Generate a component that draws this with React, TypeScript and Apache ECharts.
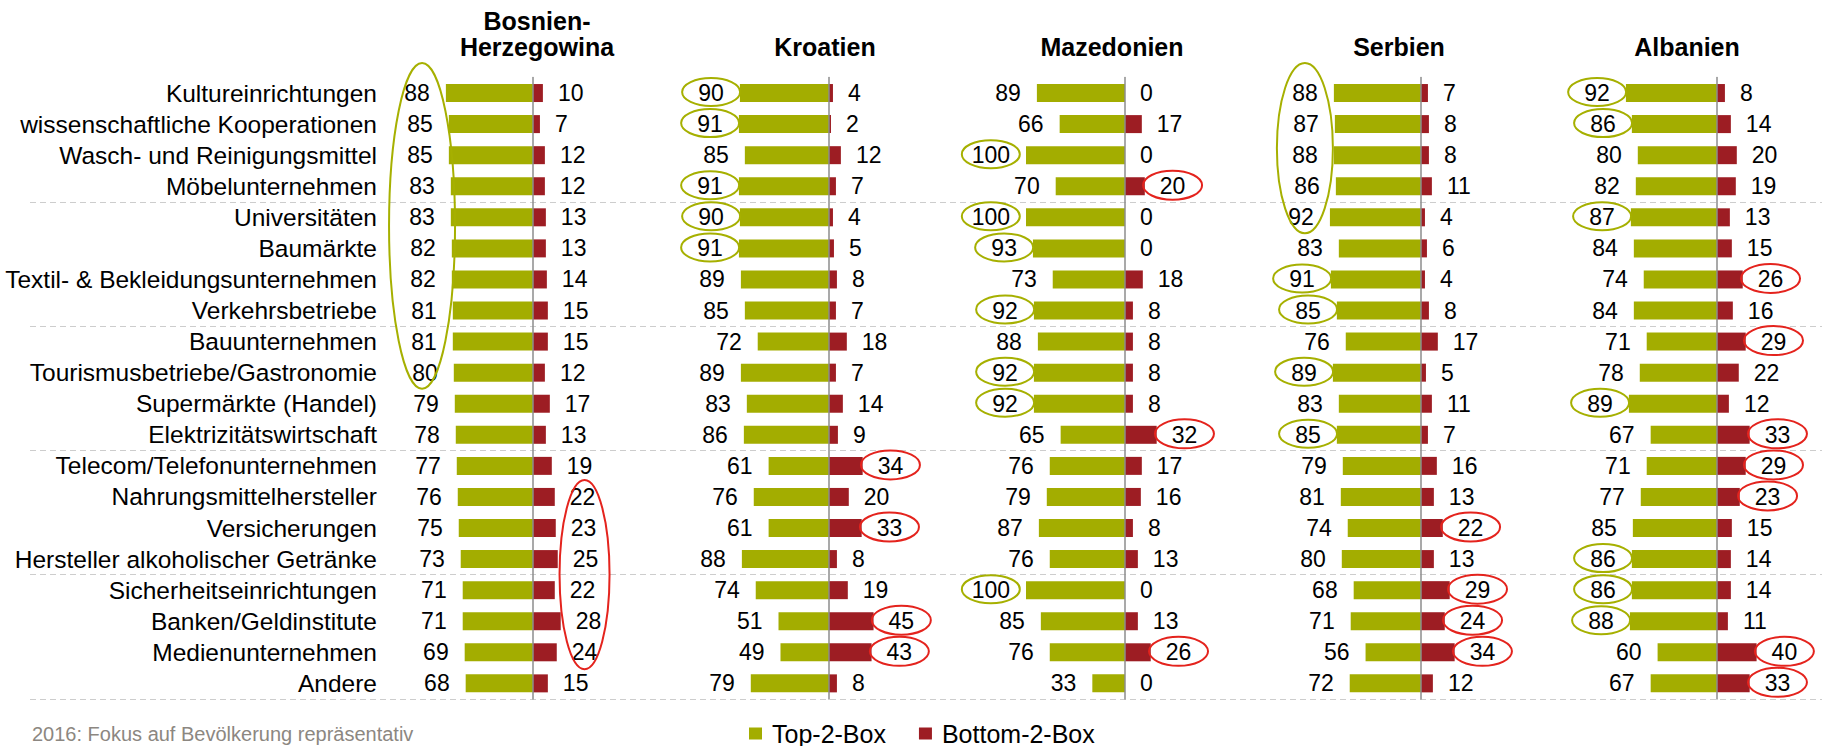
import { useEffect, useRef } from 'react';
import * as echarts from 'echarts';

// ---------------- data ----------------
const categories = [
  'Kultureinrichtungen',
  'wissenschaftliche Kooperationen',
  'Wasch- und Reinigungsmittel',
  'Möbelunternehmen',
  'Universitäten',
  'Baumärkte',
  'Textil- & Bekleidungsunternehmen',
  'Verkehrsbetriebe',
  'Bauunternehmen',
  'Tourismusbetriebe/Gastronomie',
  'Supermärkte (Handel)',
  'Elektrizitätswirtschaft',
  'Telecom/Telefonunternehmen',
  'Nahrungsmittelhersteller',
  'Versicherungen',
  'Hersteller alkoholischer Getränke',
  'Sicherheitseinrichtungen',
  'Banken/Geldinstitute',
  'Medienunternehmen',
  'Andere',
];

const countries = ['Bosnien-\nHerzegowina', 'Kroatien', 'Mazedonien', 'Serbien', 'Albanien'];
const seriesNames = ['Top-2-Box', 'Bottom-2-Box'];
const footnote = '2016: Fokus auf Bevölkerung repräsentativ';

const top2Bosnien = [88, 85, 85, 83, 83, 82, 82, 81, 81, 80, 79, 78, 77, 76, 75, 73, 71, 71, 69, 68];
const bottom2Bosnien = [10, 7, 12, 12, 13, 13, 14, 15, 15, 12, 17, 13, 19, 22, 23, 25, 22, 28, 24, 15];

const top2Kroatien = [90, 91, 85, 91, 90, 91, 89, 85, 72, 89, 83, 86, 61, 76, 61, 88, 74, 51, 49, 79];
const bottom2Kroatien = [4, 2, 12, 7, 4, 5, 8, 7, 18, 7, 14, 9, 34, 20, 33, 8, 19, 45, 43, 8];

const top2Mazedonien = [89, 66, 100, 70, 100, 93, 73, 92, 88, 92, 92, 65, 76, 79, 87, 76, 100, 85, 76, 33];
const bottom2Mazedonien = [0, 17, 0, 20, 0, 0, 18, 8, 8, 8, 8, 32, 17, 16, 8, 13, 0, 13, 26, 0];

const top2Serbien = [88, 87, 88, 86, 92, 83, 91, 85, 76, 89, 83, 85, 79, 81, 74, 80, 68, 71, 56, 72];
const bottom2Serbien = [7, 8, 8, 11, 4, 6, 4, 8, 17, 5, 11, 7, 16, 13, 22, 13, 29, 24, 34, 12];

const top2Albanien = [92, 86, 80, 82, 87, 84, 74, 84, 71, 78, 89, 67, 71, 77, 85, 86, 86, 88, 60, 67];
const bottom2Albanien = [8, 14, 20, 19, 13, 15, 26, 16, 29, 22, 12, 33, 29, 23, 15, 14, 14, 11, 40, 33];

const top2 = [top2Bosnien, top2Kroatien, top2Mazedonien, top2Serbien, top2Albanien];
const bottom2 = [bottom2Bosnien, bottom2Kroatien, bottom2Mazedonien, bottom2Serbien, bottom2Albanien];

// highlighted (circled) values: row indices per country
const top2CircledRows = [[], [0, 1, 3, 4, 5], [2, 4, 5, 7, 9, 10, 16], [6, 7, 9, 11], [0, 1, 4, 10, 15, 16, 17]];
const bottom2CircledRows = [[], [12, 14, 17, 18], [3, 11, 18], [14, 16, 17, 18], [6, 8, 11, 12, 13, 18, 19]];
// circled groups: [country, firstRow, lastRow]
const top2CircledGroups = [[0, 0, 9], [3, 0, 4]];
const bottom2CircledGroups = [[0, 13, 18]];

// ---------------- layout / style ----------------
const FONT = '"Liberation Sans", Arial, Helvetica, sans-serif';
const W = 1822;
const H = 746;
const GREEN = '#A3AD00';
const RED = '#9D1D23';
const RING_GREEN = '#A6B000';
const RING_RED = '#E4231D';
const ZERO_X = [533, 829, 1125, 1421, 1717];
const TITLE_X = [537, 825, 1112, 1399, 1687];
const PX = 0.99;
const X_MIN = -100;
const X_MAX = 50;
const GRID_TOP = 77.5;
const ROW_H = 31.07;
const VALUE_FONT = 23;
const GREEN_DIST = 16;
const RED_DIST = 15;
const GROUP_RX_TOP = [33, 28];
const GROUP_RX_BOTTOM = [25];

export default function App() {
  const ref = useRef<HTMLDivElement>(null);

  useEffect(() => {
    document.body.style.margin = '0';
    const chart = echarts.init(ref.current!, null, { renderer: 'svg' });
    const n = categories.length;
    const gridH = ROW_H * n;

    const grids: any[] = ZERO_X.map((z) => ({
      left: z + X_MIN * PX,
      top: GRID_TOP,
      width: (X_MAX - X_MIN) * PX,
      height: gridH,
    }));
    grids.push({ left: 30, right: 0, top: GRID_TOP, height: gridH });

    const xAxes: any[] = ZERO_X.map((_, i) => ({
      type: 'value',
      gridIndex: i,
      min: X_MIN,
      max: X_MAX,
      show: false,
    }));
    xAxes.push({ type: 'value', gridIndex: 5, min: 0, max: 1, show: false });

    const labelMargin = ZERO_X[0] + X_MIN * PX - 377;
    const yAxes: any[] = ZERO_X.map((_, i) => ({
      type: 'category',
      gridIndex: i,
      data: categories,
      inverse: true,
      z: 3,
      axisTick: { show: false },
      axisLine: { show: true, onZero: true, lineStyle: { color: '#8c8c8c', width: 1.5 } },
      splitLine: { show: false },
      axisLabel:
        i === 0
          ? { show: true, interval: 0, margin: labelMargin, fontSize: 24.5, color: '#000', fontFamily: FONT }
          : { show: false },
    }));
    yAxes.push({
      type: 'category',
      gridIndex: 5,
      data: categories,
      inverse: true,
      axisLine: { show: false },
      axisTick: { show: false },
      axisLabel: { show: false },
      splitLine: {
        show: true,
        interval: (i: number) => i > 0 && i < n && i % 4 === 0,
        lineStyle: { color: '#cdcdcd', width: 1.2, type: [6, 4] },
      },
    });

    const series: any[] = [];
    ZERO_X.forEach((_, i) => {
      series.push({
        name: seriesNames[0],
        type: 'bar',
        xAxisIndex: i,
        yAxisIndex: i,
        data: top2[i].map((v) => -v),
        barWidth: 18,
        barGap: '-100%',
        itemStyle: { color: GREEN },
        label: {
          show: true,
          position: 'left',
          distance: GREEN_DIST,
          formatter: (p: any) => String(-p.value),
          fontSize: VALUE_FONT,
          color: '#000',
          fontFamily: FONT,
        },
      });
      series.push({
        name: seriesNames[1],
        type: 'bar',
        xAxisIndex: i,
        yAxisIndex: i,
        data: bottom2[i],
        barWidth: 18,
        barGap: '-100%',
        itemStyle: { color: RED },
        label: {
          show: true,
          position: 'right',
          distance: RED_DIST,
          fontSize: VALUE_FONT,
          color: '#000',
          fontFamily: FONT,
        },
      });
    });

    chart.setOption({
      animation: false,
      backgroundColor: '#fff',
      textStyle: { fontFamily: FONT },
      grid: grids,
      xAxis: xAxes,
      yAxis: yAxes,
      series,
      legend: {
        data: seriesNames,
        left: 749,
        top: 721,
        icon: 'rect',
        itemWidth: 13,
        itemHeight: 12,
        itemGap: 33,
        padding: 0,
        textStyle: { fontSize: 25, color: '#000', fontFamily: FONT, padding: [0, 0, 0, 5] },
      },
    });

    // annotations from the library's own scales
    const labelW = (v: number) => String(v).length * 0.556 * VALUE_FONT;
    const greenCenter = (c: number, r: number) => {
      const v = top2[c][r];
      const p = chart.convertToPixel({ gridIndex: c }, [-v, r]) as number[];
      return [p[0] - GREEN_DIST - labelW(v) / 2, p[1]];
    };
    const redCenter = (c: number, r: number) => {
      const v = bottom2[c][r];
      const p = chart.convertToPixel({ gridIndex: c }, [v, r]) as number[];
      return [p[0] + RED_DIST + labelW(v) / 2, p[1]];
    };

    const graphics: any[] = [];
    countries.forEach((t, i) => {
      graphics.push({
        type: 'text',
        x: TITLE_X[i],
        y: 59.5,
        style: {
          text: t,
          fontSize: 25,
          fontWeight: 'bold',
          fontFamily: FONT,
          fill: '#000',
          align: 'center',
          verticalAlign: 'bottom',
          lineHeight: 25.5,
        },
      });
    });
    graphics.push({
      type: 'text',
      x: 32,
      y: 734,
      style: { text: footnote, fontSize: 20, fontFamily: FONT, fill: '#8C8781', align: 'left', verticalAlign: 'middle' },
    });

    const ring = (cx: number, cy: number, rx: number, ry: number, color: string) => ({
      type: 'ellipse',
      z: 100,
      silent: true,
      shape: { cx, cy, rx, ry },
      style: { fill: 'none', stroke: color, lineWidth: 2 },
    });

    top2CircledRows.forEach((rows, c) =>
      rows.forEach((r) => {
        const [cx, cy] = greenCenter(c, r);
        graphics.push(ring(cx, cy - 1, 29, 14, RING_GREEN));
      })
    );
    bottom2CircledRows.forEach((rows, c) =>
      rows.forEach((r) => {
        const [cx, cy] = redCenter(c, r);
        graphics.push(ring(cx, cy - 1, 29.5, 14.5, RING_RED));
      })
    );
    top2CircledGroups.forEach(([c, a, b], k) => {
      let sx = 0;
      for (let r = a; r <= b; r++) sx += greenCenter(c, r)[0];
      const cx = sx / (b - a + 1);
      const y0 = greenCenter(c, a)[1];
      const y1 = greenCenter(c, b)[1];
      graphics.push(ring(cx, (y0 + y1) / 2 - 7, GROUP_RX_TOP[k], (y1 - y0) / 2 + 23, RING_GREEN));
    });
    bottom2CircledGroups.forEach(([c, a, b], k) => {
      let sx = 0;
      for (let r = a; r <= b; r++) sx += redCenter(c, r)[0];
      const cx = sx / (b - a + 1);
      const y0 = redCenter(c, a)[1];
      const y1 = redCenter(c, b)[1];
      graphics.push(ring(cx, (y0 + y1) / 2, GROUP_RX_BOTTOM[k], (y1 - y0) / 2 + 17, RING_RED));
    });

    chart.setOption({ graphic: { elements: graphics } });

    return () => chart.dispose();
  }, []);

  return (
    <div
      ref={ref}
      style={{ position: 'absolute', left: 0, top: 0, width: W, height: H, background: '#fff' }}
    />
  );
}
